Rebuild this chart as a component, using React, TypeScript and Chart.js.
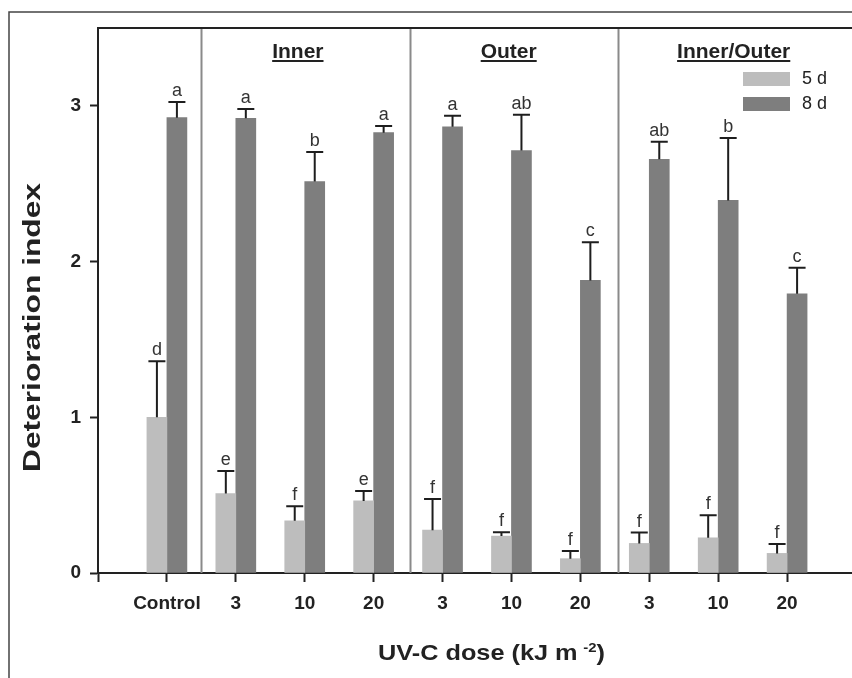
import React, { useEffect, useRef } from 'react';
import { Chart, registerables } from 'chart.js';
Chart.register(...registerables);

const doses = ['Control', '3', '10', '20', '3', '10', '20', '3', '10', '20'];
const series5dLabel = '5 d';
const series8dLabel = '8 d';
const d5 = [1.0, 0.51, 0.335, 0.463, 0.275, 0.237, 0.092, 0.19, 0.226, 0.126];
const d5Err = [0.36, 0.145, 0.094, 0.064, 0.2, 0.025, 0.05, 0.07, 0.145, 0.06];
const d5Letters = ['d', 'e', 'f', 'e', 'f', 'f', 'f', 'f', 'f', 'f'];
const d8 = [2.924, 2.92, 2.514, 2.828, 2.866, 2.713, 1.879, 2.657, 2.393, 1.793];
const d8Err = [0.1, 0.06, 0.19, 0.043, 0.07, 0.23, 0.245, 0.113, 0.4, 0.167];
const d8Letters = ['a', 'a', 'b', 'a', 'a', 'ab', 'c', 'ab', 'b', 'c'];
const groupNames = ['Inner', 'Outer', 'Inner/Outer'];
const yTicks = [0, 1, 2, 3];
const yTitle = 'Deterioration index';
const xTitleMain = 'UV-C dose (kJ m';
const xTitleSup = '-2';
const xTitleEnd = ')';

// layout constants (category-index positions / pixels)
const groupLabelIdx = [2.9, 5.96, 9.225];
const separatorIdx = [1.5, 4.53, 7.55];
const FONT = '"Liberation Sans", Arial, sans-serif';
const C5 = '#bdbdbd';
const C8 = '#7e7e7e';

const errs = [d5Err, d8Err];
const letters = [d5Letters, d8Letters];

const overlay = {
  id: 'overlay',
  beforeDatasetsDraw(chart: any) {
    const ctx = chart.ctx;
    const { top, bottom } = chart.chartArea;
    const xs = chart.scales.x;
    ctx.save();
    ctx.strokeStyle = '#8a8a8a';
    ctx.lineWidth = 2;
    separatorIdx.forEach((v) => {
      const px = Math.round(xs.getPixelForValue(v)) + 0.5;
      ctx.beginPath();
      ctx.moveTo(px, top);
      ctx.lineTo(px, bottom);
      ctx.stroke();
    });
    ctx.restore();
  },
  afterDatasetsDraw(chart: any) {
    const ctx = chart.ctx;
    const ys = chart.scales.y;
    ctx.save();
    chart.data.datasets.forEach((ds: any, di: number) => {
      const meta = chart.getDatasetMeta(di);
      meta.data.forEach((bar: any, i: number) => {
        const v = ds.data[i];
        if (v == null) return;
        const k = i - 1;
        const e = errs[di][k];
        const x = bar.x;
        const yTop = ys.getPixelForValue(v + e);
        const yBar = ys.getPixelForValue(v);
        ctx.strokeStyle = '#1e1e1e';
        ctx.lineWidth = 2;
        ctx.beginPath();
        ctx.moveTo(x, yBar);
        ctx.lineTo(x, yTop);
        ctx.moveTo(x - 8.5, yTop);
        ctx.lineTo(x + 8.5, yTop);
        ctx.stroke();
        ctx.fillStyle = '#333';
        ctx.font = `18px ${FONT}`;
        ctx.textAlign = 'center';
        ctx.textBaseline = 'alphabetic';
        ctx.fillText(letters[di][k], x, yTop - 6);
      });
    });
    ctx.restore();
  },
  afterDraw(chart: any) {
    const ctx = chart.ctx;
    const { left, right, top } = chart.chartArea;
    const xs = chart.scales.x;
    ctx.save();
    // outer frame
    ctx.strokeStyle = '#444';
    ctx.lineWidth = 1.5;
    ctx.beginPath();
    ctx.moveTo(9, 700);
    ctx.lineTo(9, 12);
    ctx.lineTo(900, 12);
    ctx.stroke();
    // plot top border
    ctx.strokeStyle = '#222';
    ctx.lineWidth = 2;
    ctx.beginPath();
    ctx.moveTo(left - 1, top);
    ctx.lineTo(right, top);
    ctx.stroke();
    // group labels
    ctx.fillStyle = '#222';
    ctx.font = `bold 21px ${FONT}`;
    ctx.textAlign = 'center';
    ctx.textBaseline = 'alphabetic';
    groupNames.forEach((g, i) => {
      const cx = xs.getPixelForValue(groupLabelIdx[i]);
      const w = ctx.measureText(g).width;
      ctx.fillText(g, cx, 58);
      ctx.fillRect(cx - w / 2, 60, w, 2);
    });
    // legend
    const ds = chart.data.datasets;
    const legendRows = [72, 97];
    ds.forEach((d: any, i: number) => {
      ctx.fillStyle = d.backgroundColor;
      ctx.fillRect(743, legendRows[i], 47, 14);
      ctx.fillStyle = '#222';
      ctx.font = `18px ${FONT}`;
      ctx.textAlign = 'left';
      ctx.textBaseline = 'middle';
      ctx.fillText(d.label, 802, legendRows[i] + 7);
    });
    // y title
    ctx.save();
    ctx.translate(34, 327.5);
    ctx.rotate(-Math.PI / 2);
    ctx.font = `bold 23px ${FONT}`;
    const wy = ctx.measureText(yTitle).width;
    ctx.scale(289 / wy, 1);
    ctx.textAlign = 'center';
    ctx.textBaseline = 'middle';
    ctx.fillStyle = '#222';
    ctx.fillText(yTitle, 0, 0);
    ctx.restore();
    // x title
    ctx.save();
    ctx.font = `bold 22px ${FONT}`;
    const wMain = ctx.measureText(xTitleMain).width;
    const wEnd = ctx.measureText(xTitleEnd).width;
    ctx.font = `bold 13px ${FONT}`;
    const wSup = ctx.measureText(xTitleSup).width;
    const gap = 5;
    const total = wMain + gap + wSup + wEnd;
    const target = 227;
    const sx = target / total;
    ctx.translate(491.5 - target / 2, 660);
    ctx.scale(sx, 1);
    ctx.fillStyle = '#222';
    ctx.textAlign = 'left';
    ctx.textBaseline = 'alphabetic';
    ctx.font = `bold 22px ${FONT}`;
    ctx.fillText(xTitleMain, 0, 0);
    ctx.font = `bold 13px ${FONT}`;
    ctx.fillText(xTitleSup, wMain + gap, -8);
    ctx.font = `bold 22px ${FONT}`;
    ctx.fillText(xTitleEnd, wMain + gap + wSup, 0);
    ctx.restore();
    ctx.restore();
  },
};

export default function App() {
  const ref = useRef<HTMLCanvasElement | null>(null);
  useEffect(() => {
    if (!ref.current) return;
    const labels = ['', ...doses, ''];
    const chart = new Chart(ref.current, {
      type: 'bar',
      data: {
        labels,
        datasets: [
          { label: series5dLabel, data: [null, ...d5, null], backgroundColor: C5, borderWidth: 0, barThickness: 20 },
          { label: series8dLabel, data: [null, ...d8, null], backgroundColor: C8, borderWidth: 0, barThickness: 20 },
        ],
      },
      options: {
        responsive: false,
        animation: false,
        layout: { padding: { left: 0, top: 28, right: 4, bottom: 0 } },
        plugins: { legend: { display: false }, tooltip: { enabled: false } },
        scales: {
          x: {
            type: 'category',
            offset: false,
            grid: { display: true, drawOnChartArea: false, offset: false, tickLength: 9, tickColor: '#222', tickWidth: 2 },
            border: { display: true, color: '#222', width: 2 },
            ticks: {
              autoSkip: false,
              maxRotation: 0,
              minRotation: 0,
              padding: 10,
              color: '#222',
              font: { family: FONT, size: 19, weight: 'bold' },
            },
            afterFit: (s: any) => { s.height = 105; },
          },
          y: {
            min: 0,
            max: 3.5,
            grid: { display: true, drawOnChartArea: false, tickLength: 8, tickColor: '#222', tickWidth: 2 },
            border: { display: true, color: '#222', width: 2 },
            ticks: {
              stepSize: 1,
              includeBounds: false,
              padding: 9,
              color: '#222',
              font: { family: FONT, size: 19, weight: 'bold' },
            },
            afterBuildTicks: (s: any) => { s.ticks = yTicks.map((v) => ({ value: v })); },
            afterFit: (s: any) => { s.width = 98; },
          },
        },
      },
      plugins: [overlay],
    } as any);
    return () => chart.destroy();
  }, []);
  return (
    <div style={{ position: 'fixed', left: 0, top: 0, width: 852, height: 678, overflow: 'hidden', background: '#fff' }}>
      <canvas ref={ref} width={866} height={678} style={{ display: 'block' }} />
    </div>
  );
}
